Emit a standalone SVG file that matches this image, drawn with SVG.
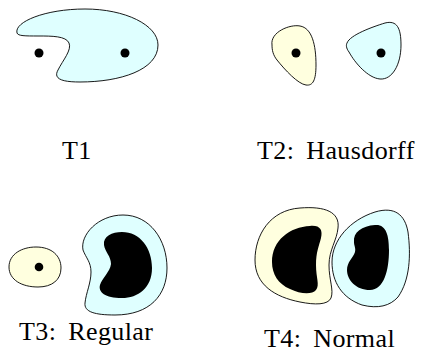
<svg xmlns="http://www.w3.org/2000/svg" width="421" height="353" viewBox="0 0 421 353">
<style>
.o{stroke:#000;stroke-width:0.9;stroke-linejoin:round}
.y{fill:#ffffdf}
.b{fill:#dfffff}
.k{fill:#000}
text{font-family:'Liberation Serif','DejaVu Serif',serif;font-size:26px;fill:#000;word-spacing:5px;letter-spacing:0.4px}
</style>
<rect width="421" height="353" fill="#fff"/>
<g id="t1">
<path class="o b" d="M 17,33 C 14,22 45,9 85,9 C 125,9 158,25 158,45 C 158,70 120,82 80,82 C 62,82 53,79 58,70 C 63,60 72,50 69,43 C 66,36 52,36 38,36 C 25,36 18,36 17,33 Z"/>
<circle class="k" cx="39" cy="53" r="4.5"/>
<circle class="k" cx="125" cy="53" r="4.5"/>
<text x="62" y="159">T1</text>
</g>
<g id="t2">
<path class="o y" d="M 272,45 C 270,32 290,24 300,26 C 312,28 316,45 316,65 C 316,80 313,86 306,85 C 298,84 285,70 277,60 C 273,55 272,50 272,45 Z"/>
<circle class="k" cx="296" cy="53" r="4.5"/>
<path class="o b" d="M 347,43 C 350,35 372,27 385,23 C 397,20 401,28 401,45 C 401,65 392,80 380,79 C 368,78 355,63 349,52 C 346,48 346,45 347,43 Z"/>
<circle class="k" cx="381" cy="53" r="4.5"/>
<text x="257" y="159">T2: Hausdorff</text>
</g>
<g id="t3">
<path class="o y" d="M 9,267 C 9,254 22,247 36,247 C 52,247 61,256 61,268 C 61,280 52,287 38,287 C 22,287 9,280 9,267 Z"/>
<circle class="k" cx="39" cy="267" r="4.3"/>
<path class="o b" d="M 83,250 C 80,235 98,215 123,215 C 150,215 167,240 167,268 C 167,295 150,315 115,315 C 95,315 84,312 85,303 C 86,293 91,283 91,272 C 91,262 86,258 83,250 Z"/>
<path class="k" d="M 104,245 C 103,236 112,232 122,232 C 140,232 152,248 152,268 C 152,288 138,298 122,298 C 105,298 98,292 100,285 C 102,278 110,272 111,264 C 111,256 105,252 104,245 Z"/>
<text x="19" y="340">T3: Regular</text>
</g>
<g id="t4">
<path class="o y" d="M 255,260 C 255,235 270,210 300,208 C 325,206 340,212 338,228 C 337,240 329,250 329,265 C 329,280 334,290 331,298 C 328,305 315,305 300,302 C 275,297 255,285 255,260 Z"/>
<path class="k" d="M 272,262 C 272,240 290,227 310,226 C 320,225 323,230 321,238 C 319,246 316,252 316,265 C 316,278 320,285 316,290 C 312,295 300,294 290,289 C 278,284 272,274 272,262 Z"/>
<path class="o b" d="M 332,262 C 332,240 350,220 375,212 C 395,206 405,215 408,232 C 411,255 410,280 398,297 C 390,306 378,309 362,305 C 342,298 332,282 332,262 Z"/>
<path class="k" d="M 354,242 C 353,232 362,226 375,225 C 386,224 389,235 389,250 C 389,270 384,290 370,290 C 356,290 347,280 347,270 C 347,262 353,258 355,252 C 356,248 354,246 354,242 Z"/>
<text x="264" y="347">T4: Normal</text>
</g>
</svg>
